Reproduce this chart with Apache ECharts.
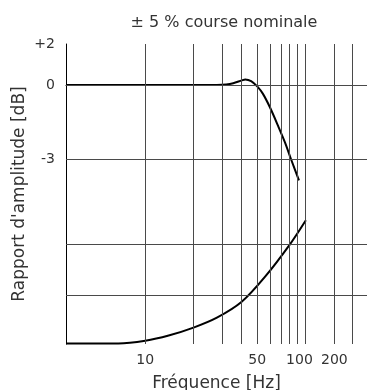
<!DOCTYPE html>
<html>
<head>
<meta charset="utf-8">
<script src="https://cdn.jsdelivr.net/npm/echarts@6/dist/echarts.min.js"></script>
<style>
  html, body { margin: 0; padding: 0; background: #fff; }
  #graph { width: 367px; height: 390px; }
</style>
</head>
<body>
<div id="graph"></div>
<script>
"use strict"

// frequency grid and labels [Hz]
const gridFreqs = [10, 20, 30, 40, 50, 60, 70, 80, 90, 100, 200, 300];
const labelFreqs = [10, 50, 100, 200];
const freqMin = 3.2, freqMax = 437;

// amplitude grid and labels [dB]
const gridDb = [2, 0, -3, -6.4, -8.45];
const labelDb = [2, 0, -3];
const dbMin = -10.42, dbMax = 2;

// upper curve: amplitude ratio
const upperFreq = [3.2, 20, 28, 32, 35.4, 40, 42.1, 45.8, 50, 54.3, 60, 67.4, 74.6, 81.3, 91.1];
const upperDb = [0, 0, 0, 0.02, 0.08, 0.22, 0.27, 0.19, -0.06, -0.36, -0.9, -1.64, -2.32, -2.99, -3.84];

// lower curve
const lowerFreq = [3.2, 6.8, 10, 14, 20, 28, 40, 56, 80, 101];
const lowerDb = [-10.4, -10.4, -10.29, -10.08, -9.76, -9.36, -8.72, -7.71, -6.41, -5.44];

// the drawing squeezes the decade above 100 Hz and the dB span above 0
const XK = 0.6, YK = 0.823;
const xPos = f => { const l = Math.log10(f); return l <= 2 ? l : 2 + XK * (l - 2); };
const xFreq = p => p <= 2 ? Math.pow(10, p) : Math.pow(10, 2 + (p - 2) / XK);
const yPos = d => d > 0 ? d * YK : d;

const txt = "#333";
const font = "DejaVu Sans";
const gridColor = "#4a4a4a";

const toPairs = (fs, ds) => fs.map((f, i) => [xPos(f), yPos(ds[i])]);

const option = {
    animation: false,
    title: {
        text: "± 5 % course nominale",
        left: 219, top: 10, textAlign: "center",
        textStyle: { fontFamily: font, fontSize: 16, fontWeight: "normal", color: txt }
    },
    grid: { left: 66, right: 0, top: 44, bottom: 46, outerBoundsMode: "none" },
    xAxis: {
        type: "value",
        min: xPos(freqMin), max: xPos(freqMax),
        name: "Fréquence [Hz]", nameLocation: "middle", nameGap: 31, nameMoveOverlap: false,
        nameTextStyle: { fontFamily: font, fontSize: 17, color: txt },
        axisLine: { lineStyle: { color: "#000", width: 1 } },
        axisTick: { show: true, inside: false, length: 4, customValues: labelFreqs.map(xPos), lineStyle: { color: "#000" } },
        axisLabel: {
            customValues: labelFreqs.map(xPos),
            formatter: v => {
                const f = Math.round(xFreq(v));
                return f === 100 ? "{s|" + f + "}" : String(f);
            },
            rich: { s: { fontFamily: font, fontSize: 14, color: txt, padding: [0, 12, 0, 0] } },
            margin: 9, fontFamily: font, fontSize: 14, color: txt
        },
        splitLine: { show: false }
    },
    yAxis: {
        type: "value",
        min: dbMin, max: yPos(dbMax),
        name: "Rapport d'amplitude [dB]", nameLocation: "middle", nameGap: 38, nameMoveOverlap: false,
        nameTextStyle: { fontFamily: font, fontSize: 17, color: txt },
        axisLine: { show: true, lineStyle: { color: "#000", width: 1 } },
        axisTick: { show: false },
        axisLabel: {
            customValues: labelDb.map(yPos),
            formatter: v => { const r = Math.round(v > 0 ? v / YK : v); return r > 0 ? "+" + r : String(r); },
            margin: 11, fontFamily: font, fontSize: 14, color: txt
        },
        splitLine: { show: false }
    },
    series: [
        {
            type: "line",
            data: toPairs(upperFreq, upperDb),
            smooth: 0.3,
            showSymbol: false,
            lineStyle: { color: "#000", width: 2 },
            z: 3,
            markLine: {
                silent: true,
                symbol: ["none", "none"],
                label: { show: false },
                lineStyle: { color: gridColor, width: 1, type: "solid" },
                data: gridFreqs.map(f => ({ xAxis: xPos(f) }))
                    .concat(gridDb.map(d => ({ yAxis: yPos(d) })))
            }
        },
        {
            type: "line",
            data: toPairs(lowerFreq, lowerDb),
            smooth: 0.3,
            showSymbol: false,
            lineStyle: { color: "#000", width: 2 },
            z: 3
        }
    ]
};

const myChart = echarts.init(document.getElementById("graph"), null, { renderer: "canvas" });
myChart.setOption(option);
</script>
</body>
</html>
